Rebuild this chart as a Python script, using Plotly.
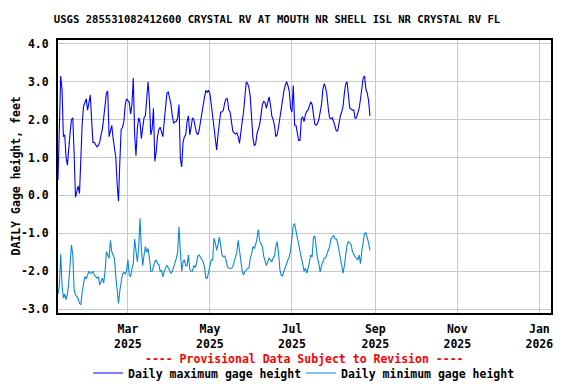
import datetime as dt
import plotly.graph_objects as go

start_date = dt.date(2025, 1, 8)

daily_max = [
    0.4, 1.8, 3.15, 2.8, 1.55, 1.6, 1.0, 0.8, 1.35, 1.65,
    2.0, 2.05, 1.1, -0.05, 0.1, 0.25, 0.05, 1.0, 1.9, 2.35,
    2.45, 2.55, 2.25, 2.5, 2.65, 2.0, 1.4, 1.4, 1.35, 1.28,
    1.32, 1.4, 1.6, 1.75, 2.05, 2.4, 2.7, 2.75, 1.55, 1.7,
    1.85, 1.5, 1.25, 1.0, 0.3, -0.15, 0.9, 1.75, 1.8, 1.95,
    2.4, 2.55, 2.5, 2.45, 2.15, 2.4, 3.1, 1.6, 1.05, 1.75,
    2.05, 1.95, 1.5, 1.8, 2.05, 2.1, 2.55, 3.0, 2.5, 1.6,
    1.75, 2.3, 0.9, 1.15, 1.55, 1.75, 1.8, 1.7, 1.55, 1.95,
    2.4, 2.7, 2.73, 2.6, 2.4, 2.1, 1.9, 1.95, 1.95, 2.05,
    2.4, 0.97, 0.75, 1.4, 1.55, 1.6, 1.95, 2.1, 1.6, 1.8,
    2.05, 2.0, 1.85, 1.65, 1.6, 1.72, 1.95, 2.2, 2.35, 2.6,
    2.77, 2.72, 2.77, 2.68, 2.4, 2.1, 1.75, 1.5, 1.2, 1.6,
    1.9, 2.2, 2.2, 2.25, 2.45, 2.55, 2.55, 2.25, 2.2, 1.95,
    1.7, 1.65, 1.62, 1.65, 1.55, 1.37, 1.75, 1.95, 2.2, 2.7,
    3.0, 2.95, 2.85, 2.6, 2.03, 1.5, 1.32, 1.35, 1.63, 1.75,
    1.87, 2.12, 2.4, 2.48, 2.45, 2.3, 2.45, 2.6, 2.4, 2.1,
    2.0, 1.85, 1.55, 1.6, 1.8, 2.05, 2.3, 2.55, 2.75, 2.9,
    3.0, 2.9, 2.75, 2.3, 2.2, 2.9, 1.85, 1.85, 1.6, 1.45,
    1.45, 2.03, 2.07, 1.95, 2.13, 2.22, 2.25, 2.4, 2.47, 2.4,
    2.05, 1.88, 1.85, 1.9, 2.0, 2.2, 2.4, 2.8, 2.95, 2.85,
    2.65, 2.3, 2.05, 2.02, 2.05, 1.95, 1.85, 1.7, 1.7, 1.95,
    2.1, 2.2, 2.35, 2.7, 2.95, 3.0, 2.6, 2.3, 2.28, 2.25,
    2.25, 2.03, 2.05, 2.2, 2.3, 2.55, 2.8, 3.1, 3.15, 2.8,
    2.7, 2.5, 2.1,
]

daily_min = [
    -2.6, -2.4, -1.55, -2.35, -2.7, -2.6, -2.75, -2.6, -2.3, -1.83,
    -1.3, -1.57, -2.5, -2.62, -2.67, -2.72, -2.85, -2.88, -2.54, -2.27,
    -2.14, -2.2, -2.1, -2.0, -2.05, -2.05, -2.0, -2.1, -2.14, -2.18,
    -2.14, -2.36, -2.27, -2.18, -2.31, -2.0, -1.48, -1.57, -1.66, -1.18,
    -1.48, -1.57, -1.66, -2.14, -2.62, -2.85, -2.5, -2.28, -2.07, -2.03,
    -2.07, -2.0, -1.7, -2.1, -2.14, -1.93, -1.8, -1.15, -1.55, -1.75,
    -1.4, -0.6, -1.4, -1.85, -1.57, -1.35, -1.5, -1.4, -1.65, -2.0,
    -2.0, -1.85, -1.75, -1.7, -1.8, -1.82, -2.0, -1.98, -2.15, -2.0,
    -1.92, -1.85, -1.9, -1.96, -2.05, -2.0, -1.9, -1.75, -1.66, -1.5,
    -0.83, -1.48, -2.0, -1.75, -1.7, -1.85, -1.85, -1.57, -1.95, -2.0,
    -2.0, -1.85, -1.9, -1.8, -1.6, -1.57, -1.63, -1.7, -1.75, -1.9,
    -2.18, -2.18, -2.0, -1.92, -1.7, -1.7, -1.13, -1.25, -1.45, -1.3,
    -1.1, -1.3, -1.57, -1.62, -1.6, -1.7, -1.88, -1.92, -1.92, -1.92,
    -1.88, -1.75, -1.65, -1.5, -1.18, -1.5, -1.85, -2.0, -2.1, -2.0,
    -1.97, -1.92, -1.92, -1.65, -1.55, -1.35, -1.4, -1.3, -1.13, -0.9,
    -1.2, -1.3, -1.35, -1.6, -1.75, -1.85, -1.75, -1.65, -1.7, -1.75,
    -1.65, -1.6, -1.35, -1.22, -1.5, -1.95, -2.1, -2.12, -2.0, -1.92,
    -1.8, -1.7, -1.62, -1.45, -1.05, -0.78, -0.75, -0.95, -1.15, -1.35,
    -1.55, -1.65, -1.8, -2.0, -1.92, -2.05, -1.92, -1.7, -1.57, -1.62,
    -1.1, -1.07, -1.4, -1.65, -1.8, -2.02, -1.85, -1.75, -1.65, -1.65,
    -1.55, -1.4, -1.35, -1.15, -1.1, -1.05, -1.15, -1.15, -1.25, -1.45,
    -1.65, -1.8, -2.05, -1.85, -1.5, -1.3, -1.22, -1.25, -1.3, -1.48,
    -1.57, -1.62, -1.65, -1.7, -1.57, -1.8, -1.45, -1.25, -1.0, -0.98,
    -1.1, -1.25, -1.45,
]

dates_max = [start_date + dt.timedelta(days=i) for i in range(len(daily_max))]
dates_min = [start_date + dt.timedelta(days=i) for i in range(len(daily_min))]

x_tick_vals = ["2025-03-01", "2025-05-01", "2025-07-01", "2025-09-01", "2025-11-01", "2026-01-01"]
x_tick_text = ["Mar<br>2025", "May<br>2025", "Jul<br>2025", "Sep<br>2025", "Nov<br>2025", "Jan<br>2026"]
y_tick_vals = [-3, -2, -1, 0, 1, 2, 3, 4]
y_tick_text = ["-3.0", "-2.0", "-1.0", "0.0", "1.0", "2.0", "3.0", "4.0"]

FONT = "DejaVu Sans Mono"
# The page body has an 8px margin, so the figure is laid out 8px smaller
OFF = 8
W, H = 576 - OFF, 384 - OFF

fig = go.Figure()
fig.add_trace(go.Scatter(x=dates_max, y=daily_max, mode="lines",
                         line=dict(color="#0000ff", width=1.1),
                         name="Daily maximum gage height"))
fig.add_trace(go.Scatter(x=dates_min, y=daily_min, mode="lines",
                         line=dict(color="#0a88d8", width=1.1),
                         name="Daily minimum gage height"))

fig.update_layout(
    width=W, height=H,
    margin=dict(l=58 - OFF, r=25, t=40 - OFF, b=71, autoexpand=False),
    paper_bgcolor="white", plot_bgcolor="white",
    font=dict(family=FONT, size=11, color="black", weight="bold"),
    title=dict(text="USGS 285531082412600 CRYSTAL RV AT MOUTH NR SHELL ISL NR CRYSTAL RV FL",
               x=(277 - OFF) / W, xanchor="center", xref="container",
               y=1 - (19 - OFF) / H, yanchor="middle", yref="container",
               font=dict(family=FONT, size=10.6, color="black", weight="bold")),
    showlegend=True,
    legend=dict(orientation="h", xref="container", yref="container",
                x=(88 - OFF) / W, xanchor="left", y=1 - (373 - OFF) / H, yanchor="middle",
                font=dict(family=FONT, size=11.5, color="black", weight="bold"),
                itemwidth=30, entrywidth=168, entrywidthmode="pixels",
                bgcolor="rgba(0,0,0,0)", tracegroupgap=0),
    annotations=[
        dict(text="---- Provisional Data Subject to Revision ----", x=(304 - 58) / 493, xref="paper",
             y=-(359 - 313) / 273, yref="paper", xanchor="center", yanchor="middle",
             showarrow=False, font=dict(family=FONT, size=11.5, color="red", weight="bold")),
        dict(text="DAILY Gage height, feet", textangle=-90, x=-(58 - OFF + 2) / 493, xref="paper",
             y=0.5, yref="paper", xanchor="left", yanchor="middle", showarrow=False,
             font=dict(family=FONT, size=11.5, color="black", weight="bold")),
    ],
)

fig.update_xaxes(type="date", range=["2025-01-08", "2026-01-09 16:00"],
                 tickmode="array", tickvals=x_tick_vals, ticktext=x_tick_text,
                 showgrid=True, gridcolor="#c8c8c8", gridwidth=1,
                 showline=True, linecolor="black", linewidth=2, mirror=True,
                 ticks="outside", ticklen=4, tickcolor="rgba(0,0,0,0)",
                 zeroline=False, tickangle=0, automargin=False,
                 tickfont=dict(family=FONT, size=11.5, color="black", weight="bold"))
fig.update_yaxes(range=[-3.1, 4.1], tickmode="array", tickvals=y_tick_vals, ticktext=y_tick_text,
                 showgrid=True, gridcolor="#c8c8c8", gridwidth=1,
                 showline=True, linecolor="black", linewidth=2, mirror=True,
                 ticks="outside", ticklen=5, tickcolor="rgba(0,0,0,0)",
                 zeroline=False, automargin=False,
                 tickfont=dict(family=FONT, size=11.5, color="black", weight="bold"))

fig.write_html("out.html")
